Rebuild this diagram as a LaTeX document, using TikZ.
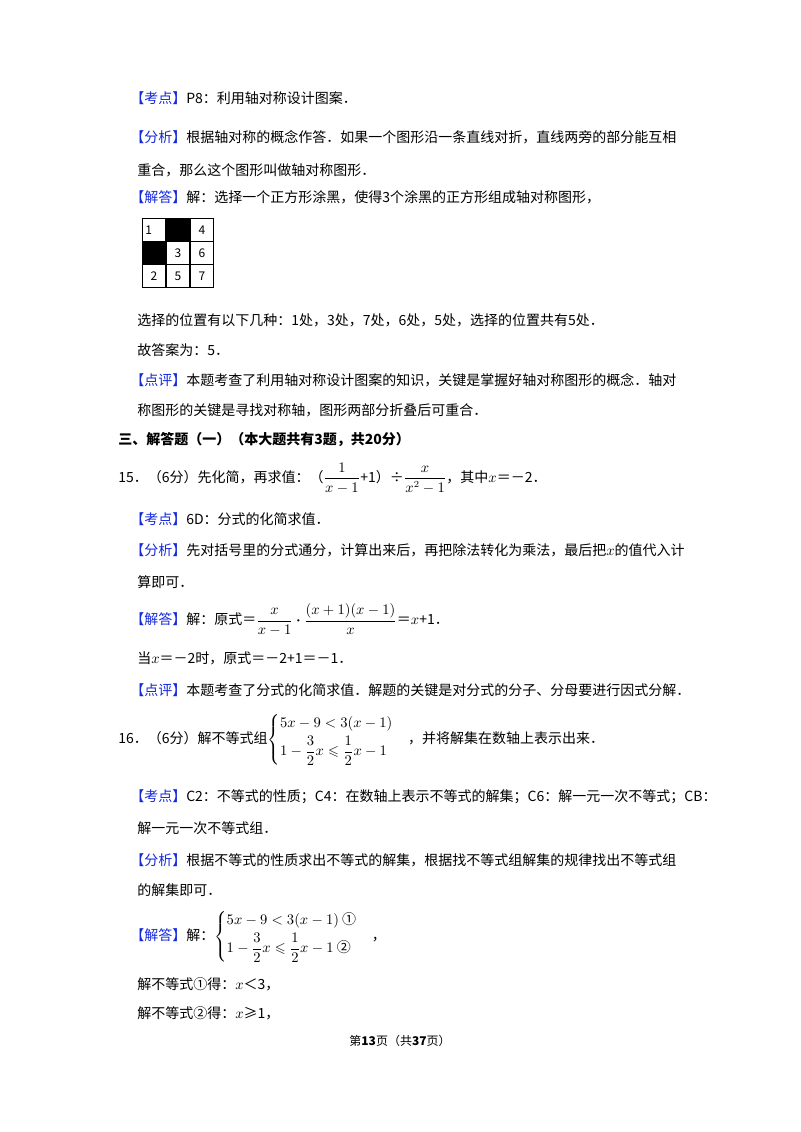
\documentclass[tikz,border=0pt]{standalone}
\usepackage{amsmath,amssymb}
\usepackage{fontspec}
\setmainfont{Noto Sans CJK SC}
\definecolor{lbl}{RGB}{20,40,220}
\begin{document}
\begin{tikzpicture}[x=0.75pt,y=-0.75pt,
  t/.style={anchor=west,inner sep=0pt,font=\fontsize{10.5pt}{12pt}\selectfont},
  cell/.style={draw,minimum size=17.25pt,inner sep=0pt,anchor=center,font=\fontsize{9pt}{10pt}\selectfont}]
\useasboundingbox (0,0) rectangle (800,1132);
\newcommand{\Lb}[1]{\textcolor{lbl}{【#1】}}
\node[t] (l1) at (130,98) {\Lb{考点}P8：利用轴对称设计图案．};
\node[t] (l2) at (130,137) {\Lb{分析}根据轴对称的概念作答．如果一个图形沿一条直线对折，直线两旁的部分能互相};
\node[t] (l3) at (137,170) {重合，那么这个图形叫做轴对称图形．};
\node[t] (l4) at (130,197) {\Lb{解答}解：选择一个正方形涂黑，使得3个涂黑的正方形组成轴对称图形，};
% grid
\node[cell] (c1) at (154,230) {\hspace*{-8pt}1};
\node[cell,fill=black] (c2) at (178,230) {};
\node[cell] (c4) at (202,230) {4};
\node[cell,fill=black] (c5) at (154,253) {};
\node[cell] (c3) at (178,253) {3};
\node[cell] (c6) at (202,253) {6};
\node[cell] (c7) at (154,276) {2};
\node[cell] (c8) at (178,276) {5};
\node[cell] (c9) at (202,276) {7};
\node[t] (l5) at (137,320) {选择的位置有以下几种：1处，3处，7处，6处，5处，选择的位置共有5处．};
\node[t] (l6) at (137,350) {故答案为：5．};
\node[t] (l7) at (130,380) {\Lb{点评}本题考查了利用轴对称设计图案的知识，关键是掌握好轴对称图形的概念．轴对};
\node[t] (l8) at (137,410) {称图形的关键是寻找对称轴，图形两部分折叠后可重合．};
\node[t,font=\fontsize{10.5pt}{12pt}\bfseries] (h) at (118,440) {三、解答题（一）（本大题共有3题，共20分）};
\node[t] (q15) at (118,478) {15．（6分）先化简，再求值：（\(\dfrac{1}{x-1}\)+1）÷\(\dfrac{x}{x^{2}-1}\)，其中\(x\)＝－2．};
\node[t] (l9) at (130,519) {\Lb{考点}6D：分式的化简求值．};
\node[t] (l10) at (130,550) {\Lb{分析}先对括号里的分式通分，计算出来后，再把除法转化为乘法，最后把\(x\)的值代入计};
\node[t] (l11) at (137,582) {算即可．};
\node[t] (l12) at (130,620) {\Lb{解答}解：原式＝\(\dfrac{x}{x-1}\boldsymbol{\cdot}\dfrac{(x+1)(x-1)}{x}\)＝\(x\)+1．};
\node[t] (l13) at (137,658) {当\(x\)＝－2时，原式＝－2+1＝－1．};
\node[t] (l14) at (130,690) {\Lb{点评}本题考查了分式的化简求值．解题的关键是对分式的分子、分母要进行因式分解．};
\node[t] (q16) at (118,740) {16．（6分）解不等式组\(\begin{cases}5x-9<3(x-1)\\[2pt] 1-\dfrac{3}{2}x\leqslant\dfrac{1}{2}x-1\end{cases}\)，并将解集在数轴上表示出来．};
\node[t] (l15) at (130,797) {\Lb{考点}C2：不等式的性质；C4：在数轴上表示不等式的解集；C6：解一元一次不等式；CB：};
\node[t] (l16) at (137,828) {解一元一次不等式组．};
\node[t] (l17) at (130,860) {\Lb{分析}根据不等式的性质求出不等式的解集，根据找不等式组解集的规律找出不等式组};
\node[t] (l18) at (137,890) {的解集即可．};
\node[t] (l19) at (130,937) {\Lb{解答}解：\(\begin{cases}5x-9<3(x-1)\ \text{①}\\[2pt] 1-\dfrac{3}{2}x\leqslant\dfrac{1}{2}x-1\ \text{②}\end{cases}\)，};
\node[t] (l20) at (137,984) {解不等式①得：\(x\)＜3，};
\node[t] (l21) at (137,1013) {解不等式②得：\(x\)≥1，};
\node[anchor=center,inner sep=0pt,font=\fontsize{9pt}{10pt}\selectfont] (ft) at (400,1041) {第\textbf{13}页（共\textbf{37}页）};
\end{tikzpicture}
\end{document}
